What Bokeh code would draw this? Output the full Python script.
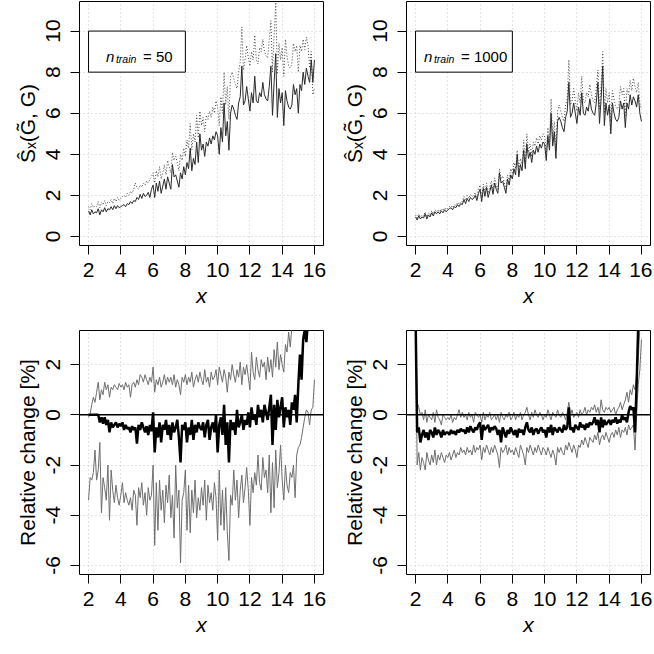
import numpy as np
from bokeh.plotting import figure
from bokeh.layouts import column, row
from bokeh.models import Range1d, FixedTicker, Span
from bokeh.core.properties import value
from bokeh.embed import file_html
from bokeh.resources import INLINE

# x grid: 2.0 .. 16.0 step 0.1
x_vals = [round(2.0 + 0.1 * i, 1) for i in range(141)]

x_ticks = [2, 4, 6, 8, 10, 12, 14, 16]
top_yticks = [0, 2, 4, 6, 8, 10]
bot_yticks = [-6, -4, -2, 0, 2]

# ---- top-left (n_train = 50) ----
tl_solid = [
    1.25, 1.05, 1.3, 1.1, 1.2, 1.15, 1.35, 1.05, 1.3, 1.2,
    1.4, 1.2, 1.35, 1.3, 1.45, 1.3, 1.5, 1.35, 1.5, 1.4,
    1.45, 1.5, 1.55, 1.45, 1.6, 1.55, 1.7, 1.6, 1.75, 1.7,
    1.9, 1.8, 2.05, 1.85, 2.1, 1.95, 2.0, 2.15, 1.9, 2.3,
    2.5, 1.9, 2.6, 2.2, 2.7, 2.1, 2.45, 2.8, 2.3, 2.9,
    2.6, 2.3, 3.5, 2.9, 3.0, 2.7, 2.4, 3.1, 2.8, 3.4,
    3.0, 3.6, 3.3, 4.3, 3.2, 3.8, 3.5, 4.6, 3.6, 5.0,
    4.2, 4.5, 3.9, 4.6, 4.4, 4.8, 4.5, 4.9, 4.7, 5.1,
    4.9, 4.0, 5.3, 4.6, 6.5, 4.9, 5.6, 4.2, 6.0, 6.4,
    6.2, 5.9, 5.7, 6.5, 6.8, 8.3, 6.4, 6.6, 7.3, 6.7,
    6.1, 7.0, 6.5, 7.8, 6.6, 6.5, 7.0, 6.8, 7.5, 6.9,
    6.7, 6.6, 7.3, 8.3, 5.9, 7.5, 8.9, 5.8, 7.2, 6.5,
    7.0, 5.4, 7.1, 6.6, 6.3, 6.2, 6.4, 7.4, 6.9, 7.2,
    6.0, 7.4, 7.1, 8.0, 7.4, 8.2, 7.8, 7.5, 8.6, 7.5,
    8.6,
]
tl_dotted = [
    1.45, 1.3, 1.6, 1.4, 1.5, 1.45, 1.7, 1.4, 1.65, 1.55,
    1.75, 1.5, 1.7, 1.65, 1.8, 1.6, 1.85, 1.7, 1.9, 1.75,
    1.85, 1.95, 2.0, 1.9, 2.1, 2.0, 2.2, 2.1, 2.3, 2.6,
    2.4, 2.3, 2.5, 2.4, 2.6, 2.5, 2.7, 2.6, 2.8, 2.9,
    3.1, 2.6, 3.2, 2.9, 3.4, 2.8, 3.1, 3.5, 3.0, 3.7,
    3.4, 3.1, 4.1, 3.7, 3.9, 3.6, 3.2, 4.0, 3.7, 4.3,
    3.9, 4.7, 4.3, 5.5, 4.2, 5.0, 4.6, 5.9, 4.8, 6.1,
    5.4, 5.8, 5.1, 5.9, 5.7, 6.1, 5.8, 6.3, 6.0, 6.6,
    6.3, 5.4, 6.8, 6.0, 8.0, 6.4, 7.3, 5.7, 7.8, 8.0,
    7.7, 7.4, 7.2, 8.0, 8.5, 10.2, 8.1, 8.6, 9.3, 8.7,
    8.3, 9.0, 8.6, 9.8, 8.6, 8.4, 9.2, 9.0, 9.6, 9.0,
    8.8, 8.7, 9.6, 10.5, 8.0, 9.8, 11.4, 7.9, 9.4, 8.6,
    9.2, 7.8, 9.6, 8.8, 8.3, 8.2, 8.4, 9.4, 9.0, 9.3,
    8.0, 9.3, 9.0, 9.6, 9.1, 9.7, 9.3, 8.2, 9.0, 6.9,
    7.2,
]

# ---- top-right (n_train = 1000) ----
tr_solid = [
    0.95, 0.8, 1.0, 0.85, 0.95, 0.9, 1.1, 0.85, 1.05, 0.95,
    1.15, 1.0, 1.2, 1.1, 1.2, 1.1, 1.25, 1.15, 1.3, 1.2,
    1.3, 1.35, 1.4, 1.3, 1.45, 1.4, 1.55, 1.45, 1.6, 1.55,
    1.8, 1.6, 1.85, 1.7, 1.9, 1.8, 1.85, 2.0, 1.75, 2.1,
    2.3, 1.7, 2.35, 1.95, 2.4, 1.9, 2.2, 2.5, 2.05, 2.6,
    2.3, 2.1, 3.1, 2.6, 2.7, 2.4, 2.1, 2.8, 2.5, 3.0,
    2.8, 3.3, 3.0, 4.0, 2.9, 3.5, 3.2, 4.2, 3.3, 4.5,
    3.8, 4.1, 3.6, 4.2, 4.0, 4.4, 4.1, 4.5, 4.3, 4.6,
    4.5, 3.7, 4.9, 4.2, 6.0, 4.4, 5.1, 3.8, 5.6, 5.8,
    5.6, 5.3, 5.1, 5.8, 6.1, 7.5, 5.8, 6.0, 6.5, 6.0,
    5.5, 6.3, 5.9, 7.0, 6.0, 5.9, 6.3, 6.1, 6.7, 6.2,
    6.0, 5.9, 6.5, 7.5, 5.5, 6.7, 8.3, 5.4, 6.5, 5.9,
    6.4, 5.0, 6.5, 6.0, 5.7, 5.6, 5.8, 6.6, 6.2, 6.5,
    5.3, 6.5, 6.2, 6.9, 6.4, 6.8, 6.6, 6.3, 6.9, 6.0,
    5.6,
]
tr_dotted = [
    1.05, 0.9, 1.1, 0.95, 1.05, 1.0, 1.2, 0.95, 1.15, 1.05,
    1.25, 1.1, 1.3, 1.2, 1.3, 1.2, 1.35, 1.25, 1.4, 1.3,
    1.4, 1.45, 1.5, 1.4, 1.55, 1.5, 1.65, 1.55, 1.7, 1.7,
    1.95, 1.75, 2.0, 1.85, 2.05, 1.95, 2.0, 2.15, 1.9, 2.3,
    2.5, 1.9, 2.55, 2.15, 2.6, 2.1, 2.4, 2.7, 2.25, 2.85,
    2.5, 2.3, 3.3, 2.8, 2.95, 2.6, 2.3, 3.0, 2.75, 3.3,
    3.1, 3.6, 3.3, 4.2, 3.2, 3.8, 3.5, 4.7, 3.6, 5.0,
    4.1, 4.5, 3.9, 4.6, 4.4, 4.8, 4.5, 4.9, 4.7, 5.0,
    4.9, 4.1, 5.3, 4.6, 6.7, 4.8, 5.6, 4.2, 6.1, 6.4,
    6.1, 5.8, 5.6, 6.4, 6.7, 8.6, 6.4, 6.6, 7.2, 6.6,
    6.1, 7.0, 6.5, 7.8, 6.6, 6.5, 7.0, 6.8, 7.4, 6.9,
    6.6, 6.5, 7.2, 8.1, 6.2, 7.4, 9.0, 6.0, 7.2, 6.5,
    7.0, 5.6, 7.1, 6.7, 6.3, 6.2, 6.4, 7.3, 6.9, 7.2,
    5.9, 7.2, 6.9, 7.6, 7.1, 7.7, 7.3, 7.0, 7.5, 6.5,
    6.2,
]

# ---- bottom-left (relative change, n_train = 50) ----
bl_mean = [
    0.0, 0.0, 0.0, 0.0, 0.0, 0.0, 0.0, -0.3, -0.1, -0.35,
    -0.1, -0.4, -0.2, -0.7, -0.3, -0.5, -0.4, -0.3, -0.5, -0.35,
    -0.45, -0.3, -0.6, -0.4, -0.55, -0.5, -0.7, -0.45, -0.6, -0.5,
    -1.15, -0.4, -0.6, -0.3, -0.5, -0.7, -0.45, -0.8, -0.4, -0.65,
    0.1, -1.5, -0.5, -0.9, -0.3, -1.1, -0.4, -0.6, -0.2, -0.8,
    -0.4, -1.0, -0.3, -0.7, -0.5, -0.2, -0.9, -1.9, -0.4, -0.6,
    -0.3, -1.1, -0.5, -0.8, -0.2, -1.0, -0.4, -0.7, -0.3, -0.5,
    -0.6, -0.3, -0.9, -0.4, -0.2, -1.0, -0.5, -0.3, -0.7, 0.0,
    -1.5, -0.4, -0.1, -0.8, 0.4, -1.2, -0.3, -1.9, -0.2, -0.6,
    -0.3, -0.8, 0.2, -0.5, -0.3, 0.0, -0.6, -0.2, -0.4, 0.1,
    -0.5, 0.3, -0.2, 0.0, -0.4, 0.4, -0.1, 0.2, -0.3, 0.4,
    0.1, -0.2, 0.3, 0.8, -1.2, 0.4, -0.6, 0.6, -0.1, 0.3,
    0.7, -0.5, 0.3, -0.1, 0.2, -0.4, 0.5, 0.2, 0.8, -0.3,
    1.2, 2.4, 1.4, 3.0, 3.4, 2.9, 3.8, 4.0, 4.2, 4.4,
    4.6,
]
bl_upper = [
    -0.1, 0.05, 0.4, 0.7, 0.5, 0.9, 1.3, 0.6, 1.0, 0.8,
    1.3, 1.0, 1.2, 0.7, 1.1, 1.0, 1.2, 1.1, 1.0, 1.25,
    1.1, 1.2, 1.0, 1.3, 1.1, 1.2, 0.7, 1.2, 1.3, 1.1,
    1.4, 1.2, 1.6, 1.5, 1.3, 1.6, 1.4, 1.2, 1.5, 1.3,
    1.9, 0.9, 1.4, 1.2, 1.5, 1.1, 1.3, 1.6, 1.2, 1.5,
    1.3, 1.5, 1.2, 1.6, 1.1, 1.4, 1.2, 0.8, 1.5, 1.3,
    1.6, 1.2, 1.5, 1.3, 1.7, 1.1, 1.4, 1.6, 1.3, 1.7,
    1.4, 1.2, 1.8, 1.3, 1.5, 1.1, 1.7, 1.4, 1.5, 1.8,
    1.2, 1.9, 1.6, 1.3, 1.8, 1.5, 0.9, 1.7, 1.4, 2.0,
    1.6, 1.3, 1.8, 1.5, 2.1, 1.2, 1.9, 1.6, 2.0, 1.5,
    1.0, 2.5, 1.7, 1.4, 2.3, 1.8, 1.5, 2.2, 1.9, 2.1,
    1.4, 2.3, 1.7, 2.2, 1.5, 2.6, 1.9, 2.9, 1.8, 2.4,
    2.0, 1.7, 2.8, 2.5, 3.3, 2.7, 3.5, 3.9, 4.2, 4.5,
    4.8, 5.0, 5.2, 5.4, 5.6, 5.8, 6.0, 6.2, 6.4, 6.6,
    6.8,
]
bl_lower = [
    -3.4, -2.5, -2.6, -2.3, -1.4, -2.6, -2.2, -1.1, -3.9, -2.5,
    -2.9, -3.4, -2.0, -4.2, -2.2, -3.0, -3.5, -2.8, -3.3, -3.6,
    -3.2, -2.7, -3.5, -3.1, -3.4, -3.6, -3.3, -3.8, -3.0, -3.2,
    -4.4, -2.9, -3.3, -2.7, -3.6, -3.1, -4.0, -2.9, -3.4, -3.2,
    -2.0, -5.2, -2.7, -4.6, -2.6, -3.8, -3.0, -4.3, -2.8, -3.5,
    -2.4, -4.1, -3.2, -4.9, -2.0, -3.7, -3.0, -5.9, -3.4, -3.1,
    -2.2, -4.6, -2.8, -4.7, -3.0, -3.9, -2.6, -4.1, -3.3, -3.8,
    -2.9, -3.6, -2.6, -4.2, -2.8, -3.5, -3.1, -3.8, -2.7, -3.3,
    -5.0, -2.2, -4.4, -3.0, -4.6, -2.9, -4.7, -5.8, -3.2, -3.6,
    -2.2, -3.4, -2.6, -4.1, -3.0, -2.4, -3.5, -2.9, -2.1, -3.0,
    -4.4, -2.5, -3.1, -2.3, -2.8, -1.6, -2.7, -3.0, -1.7, -2.5,
    -2.2, -3.1, -1.6, -3.9, -1.9, -3.7, -1.4, -2.9, -2.3, -1.2,
    -2.6, -3.4, -2.0, -2.8, -3.1, -2.3, -2.5, -2.0, -3.3, -1.6,
    -1.3, -1.2, -0.9, -0.5, -0.1, 0.2, 0.1, -0.4, 0.2, 0.3,
    1.4,
]

# ---- bottom-right (relative change, n_train = 1000) ----
br_mean = [
    4.0, -0.7, -0.5, -1.1, -0.8, -0.6, -0.9, -0.7, -1.0, -0.6,
    -0.7, -0.9, -0.5, -0.8, -0.6, -0.7, -0.9, -0.6, -0.8, -0.7,
    -0.7, -0.8, -0.6, -0.75, -0.65, -0.8, -0.6, -0.7, -0.55, -0.65,
    -0.6, -0.75, -0.5, -0.7, -0.45, -0.6, -0.7, -0.5, -0.6, -0.4,
    -0.3, -1.0, -0.4, -0.6, -0.5, -0.4, -0.7, -0.5, -0.6, -0.45,
    -0.55, -0.8, -0.6, -1.1, -0.5, -0.7, -0.9, -0.6, -0.75, -0.5,
    -0.65, -0.8, -0.6, -0.9, -0.55, -0.7, -0.6, -0.8, -0.5, -0.3,
    -0.6, -0.7, -0.5, -0.8, -0.6, -0.55, -0.75, -0.6, -0.5, -0.7,
    -0.6, -0.9, -0.5, -0.7, -0.4, -0.8, -0.5, -0.6, -0.7, -0.5,
    -0.6, -0.7, -0.4, -0.6, -0.5, 0.3, -0.6, -0.5, -0.7, -0.4,
    -0.5, -0.6, -0.3, -0.5, -0.4, -0.6, -0.35, -0.5, -0.3, -0.4,
    -0.3, -0.1, -0.4, -0.2, -0.7, -0.1, -0.5, -0.2, -0.4, -0.3,
    -0.2, -0.4, -0.2, -0.3, -0.1, -0.35, -0.2, -0.3, 0.0, -0.2,
    -0.1, -0.3, 0.1, 0.35, 0.2, 0.3, -0.7, 1.2, 3.6, 4.5,
    5.0,
]
br_upper = [
    4.0, 0.5, 0.3, 0.0, 0.1, -0.2, 0.2, -0.3, 0.0, -0.1,
    -0.2, 0.1, -0.3, 0.2, -0.1, -0.2, -0.4, 0.0, -0.1, -0.2,
    -0.1, -0.2, 0.0, -0.3, -0.1, -0.2, 0.0, 0.2, -0.1, 0.1,
    -0.1, 0.0, -0.2, 0.1, -0.1, 0.0, -0.3, 0.1, 0.0, -0.1,
    0.0, -0.3, 0.1, -0.2, 0.0, -0.1, 0.1, -0.2, -0.1, 0.0,
    -0.2, 0.0, -0.3, 0.1, -0.1, -0.2, 0.0, -0.1, 0.1, -0.2,
    -0.1, 0.1, -0.2, 0.0, -0.1, 0.1, -0.2, 0.0, 0.1, 0.3,
    0.0, -0.2, 0.1, -0.1, 0.2, 0.0, -0.1, 0.1, 0.0, -0.2,
    0.0, -0.1, 0.2, 0.0, -0.2, 0.1, 0.0, -0.1, 0.2, 0.0,
    -0.1, 0.1, 0.0, -0.2, 0.1, 0.5, 0.0, 0.2, -0.1, 0.0,
    0.1, -0.1, 0.2, 0.0, 0.1, 0.3, 0.0, 0.2, 0.1, 0.3,
    0.2, 0.4, 0.1, 0.3, 0.0, 0.6, 0.2, 0.1, 0.3, 0.2,
    0.3, 0.1, 0.2, 0.3, 0.0, 0.2, 0.3, 0.5, 0.2, 0.4,
    0.6, 0.9, 0.5, 1.0, 0.8, 1.2, 1.0, 1.6, 2.2, 3.5,
    4.5,
]
br_lower = [
    4.0, -2.0, -1.5, -2.2, -1.7, -1.9, -2.2, -1.5, -1.8, -2.0,
    -1.6, -1.9, -1.4, -2.0, -1.6, -1.8, -1.5, -1.7, -1.9, -1.6,
    -1.7, -1.5, -1.8, -1.6, -1.4, -1.7, -1.5, -1.6, -1.3, -1.5,
    -1.4, -1.6, -1.3, -1.5, -1.4, -1.6, -1.2, -1.5, -1.3, -1.4,
    -1.2, -1.8, -1.3, -1.5, -1.2, -1.4, -1.6, -1.3, -1.5, -1.2,
    -1.4, -1.6, -2.1, -1.3, -1.5, -1.4, -1.2, -1.6, -1.3, -1.5,
    -1.4, -1.6, -1.3, -1.5, -1.7, -1.2, -1.4, -1.6, -2.0, -1.3,
    -1.5, -1.2, -1.4, -1.6, -1.3, -1.5, -1.2, -1.4, -1.6, -1.3,
    -1.4, -1.6, -1.3, -1.5, -1.7, -1.4, -1.6, -2.0, -1.3, -1.5,
    -1.3, -1.5, -1.6, -1.2, -1.4, -1.1, -1.3, -1.5, -1.2, -1.4,
    -1.7, -1.2, -1.3, -1.0, -1.2, -0.9, -1.1, -1.3, -0.9, -1.0,
    -1.1, -0.8, -1.0, -0.7, -1.2, -0.9, -0.8, -1.0, -0.7, -0.9,
    -1.1, -0.8, -0.7, -0.9, -0.6, -0.8, -0.5, -0.9, -0.6, -0.7,
    -0.5, -0.8, -0.4, -0.6, -0.5, -0.4, -1.4, 0.0, 1.2, 1.8,
    3.0,
]

legend_box = dict(left=2, right=8, bottom=8, top=10)
legend_anchor = dict(x=5, y=9)
legend_values = ["50", "1000"]

FONT = "Liberation Sans"
FS = "15px"
AXIS_FS = "21px"


def make_fig(w, h, bl, br, bt, bb, yr, yticks, ylabel):
    p = figure(width=w, height=h, x_range=Range1d(1.44, 16.56),
               y_range=Range1d(*yr), output_backend="svg",
               toolbar_location=None,
               min_border_left=bl, min_border_right=br,
               min_border_top=bt, min_border_bottom=bb)
    p.background_fill_color = "white"
    p.border_fill_color = "white"
    p.outline_line_color = "black"
    p.outline_line_width = 1
    p.outline_line_alpha = 1
    p.xaxis.ticker = FixedTicker(ticks=x_ticks)
    p.yaxis.ticker = FixedTicker(ticks=yticks)
    p.xgrid.ticker = FixedTicker(ticks=x_ticks)
    p.ygrid.ticker = FixedTicker(ticks=yticks)
    p.yaxis.major_label_overrides = {t: str(t) for t in yticks}
    p.grid.grid_line_color = "#c8c8c8"
    p.grid.grid_line_dash = "1 3"
    p.grid.grid_line_width = 1
    p.axis.axis_line_color = None
    p.axis.major_tick_in = 0
    p.axis.major_tick_out = 9
    p.axis.major_tick_line_color = "black"
    p.axis.minor_tick_line_color = None
    p.axis.major_label_text_font = FONT
    p.axis.major_label_text_font_size = AXIS_FS
    p.axis.major_label_text_color = "black"
    p.axis.axis_label_text_font = FONT
    p.axis.axis_label_text_font_size = AXIS_FS
    p.axis.axis_label_text_color = "black"
    p.yaxis.major_label_orientation = "vertical"
    p.xaxis.major_label_standoff = 8
    p.yaxis.major_label_standoff = 10
    p.xaxis.axis_label = "x"
    p.xaxis.axis_label_text_font_style = "italic"
    p.xaxis.axis_label_standoff = 4
    p.yaxis.axis_label = ylabel
    p.yaxis.axis_label_text_font_style = "normal"
    p.yaxis.axis_label_standoff = 5
    return p


def add_legend(p, val):
    p.quad(left=[legend_box["left"]], right=[legend_box["right"]],
           bottom=[legend_box["bottom"]], top=[legend_box["top"]],
           fill_color="white", line_color="black", line_width=1)
    ax, ay = [legend_anchor["x"]], [legend_anchor["y"]]
    o = -40 if len(val) > 2 else -31
    p.text(x=ax, y=ay, text=["n"], text_font=value(FONT), text_font_size=FS,
           text_font_style="italic", text_align="left", text_baseline="alphabetic",
           x_offset=o, y_offset=5, text_color="black")
    p.text(x=ax, y=ay, text=["train"], text_font=value(FONT), text_font_size="10.5px",
           text_font_style="italic", text_align="left", text_baseline="alphabetic",
           x_offset=o + 10, y_offset=7.5, text_color="black")
    p.text(x=ax, y=ay, text=["= " + val], text_font=value(FONT), text_font_size=FS,
           text_align="left", text_baseline="alphabetic",
           x_offset=o + 37, y_offset=5, text_color="black")


top_label = "\u015c\u2093(G\u0303, G)"

p1 = make_fig(327, 327, 79, 4, 1, 82, (-0.44, 11.44), top_yticks, top_label)
p2 = make_fig(325, 327, 79, 2, 1, 82, (-0.44, 11.44), top_yticks, top_label)
p3 = make_fig(327, 325, 79, 4, 3, 78, (-6.36, 3.36), bot_yticks, "Relative change [%]")
p4 = make_fig(325, 325, 79, 2, 3, 78, (-6.36, 3.36), bot_yticks, "Relative change [%]")

add_legend(p1, legend_values[0])
add_legend(p2, legend_values[1])

p1.line(x_vals, tl_dotted, line_color="#444444", line_width=1, line_dash="1 2")
p1.line(x_vals, tl_solid, line_color="#2a2a2a", line_width=1)
p2.line(x_vals, tr_dotted, line_color="#444444", line_width=1, line_dash="1 2")
p2.line(x_vals, tr_solid, line_color="#2a2a2a", line_width=1)

for p, lo, up, mn in ((p3, bl_lower, bl_upper, bl_mean), (p4, br_lower, br_upper, br_mean)):
    p.add_layout(Span(location=0, dimension="width", line_color="black", line_width=1.5))
    p.line(x_vals, lo, line_color="#6e6e6e", line_width=1)
    p.line(x_vals, up, line_color="#6e6e6e", line_width=1)
    p.line(x_vals, mn, line_color="black", line_width=2.5)

layout = column(row(p1, p2), row(p3, p4))

with open("out.html", "w") as f:
    f.write(file_html(layout, INLINE))
